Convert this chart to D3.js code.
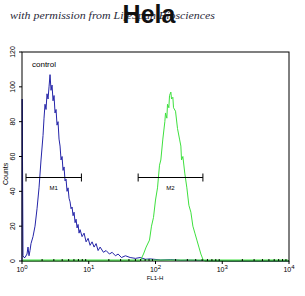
<!DOCTYPE html>
<html>
<head>
<meta charset="utf-8">
<script src="https://cdn.jsdelivr.net/npm/d3@7"></script>
<style>
  body { margin: 0; background: #fff; }
  svg { display: block; }
</style>
</head>
<body>
<svg id="chart" width="305" height="296"></svg>
<script>
// histogram values: [log10(FL1-H), counts]
const controlCurve = [
  [0, 0], [0.003, 93], [0.015, 3], [0.03, 2], [0.045, 2], [0.075, 4], [0.09, 8], [0.105, 3],
  [0.12, 6], [0.135, 10], [0.165, 14], [0.195, 20], [0.225, 30], [0.255, 42], [0.285, 58],
  [0.315, 72], [0.33, 82], [0.345, 90], [0.36, 87], [0.375, 96], [0.39, 93], [0.405, 100],
  [0.42, 107], [0.435, 98], [0.45, 101], [0.465, 92], [0.48, 95], [0.495, 85], [0.51, 87],
  [0.525, 78], [0.54, 80], [0.555, 70], [0.57, 66], [0.585, 58], [0.6, 60], [0.615, 52],
  [0.63, 54], [0.645, 46], [0.66, 47], [0.675, 40], [0.69, 42], [0.705, 36], [0.72, 34],
  [0.735, 30], [0.75, 31], [0.765, 26], [0.78, 28], [0.795, 22], [0.81, 24], [0.825, 19],
  [0.84, 21], [0.855, 16], [0.87, 18], [0.9, 14], [0.93, 16], [0.96, 11], [0.99, 13],
  [1.02, 9], [1.05, 11], [1.08, 8], [1.11, 10], [1.14, 6], [1.17, 8], [1.22, 5], [1.26, 6],
  [1.31, 4], [1.35, 5], [1.4, 3], [1.44, 4], [1.49, 2], [1.55, 3], [1.62, 2], [1.7, 1.5],
  [1.77, 2], [1.85, 1], [1.92, 1.2], [2.08, 0.6], [2.23, 0.8], [2.38, 0.4], [2.53, 0.5],
  [2.68, 0.3], [2.83, 0.2], [3.13, 0], [4, 0]
];
const sampleCurve = [
  [0, 0], [1.77, 0], [1.82, 4], [1.86, 8], [1.91, 12], [1.94, 20], [1.97, 25], [2.0, 35],
  [2.03, 42], [2.06, 55], [2.08, 58], [2.11, 70], [2.14, 80], [2.15, 85], [2.17, 82],
  [2.18, 90], [2.2, 88], [2.21, 95], [2.23, 97], [2.24, 93], [2.26, 94], [2.27, 88],
  [2.3, 86], [2.33, 76], [2.36, 70], [2.38, 66], [2.39, 58], [2.41, 60], [2.44, 50],
  [2.47, 42], [2.5, 32], [2.53, 28], [2.56, 20], [2.59, 16], [2.62, 12], [2.65, 8],
  [2.68, 4], [2.71, 1], [2.74, 0], [4, 0]
];
// gates: [name, start, end] in log10 units, at a count level
const gates = [["M1", 0.06, 0.89], ["M2", 1.74, 2.71]];
const gateLevel = 48;
const yTicks = [0, 20, 40, 60, 80, 100, 120];
const xDecades = [0, 1, 2, 3, 4];

const svg = d3.select("#chart");
const mLeft = 22, mRight = 289, mTop = 52, mBottom = 261;

const x = d3.scaleLog().domain([1, 1e4]).range([mLeft, mRight]);
const y = d3.scaleLinear().domain([0, 120]).range([mBottom, mTop]);

// watermark + title
svg.append("text")
  .attr("x", 10).attr("y", 19)
  .attr("textLength", 205)
  .attr("lengthAdjust", "spacingAndGlyphs")
  .style("font", "italic 11px 'Liberation Serif', serif")
  .attr("fill", "#2a2a3a")
  .text("with permission from LifeSpan Biosciences");

svg.append("text")
  .attr("x", 149).attr("y", 23)
  .attr("text-anchor", "middle")
  .style("font", "bold 25px 'Liberation Sans', Arial, sans-serif")
  .attr("fill", "#111")
  .text("Hela");

const line = d3.line()
  .x(d => x(Math.pow(10, d[0])))
  .y(d => y(d[1]));

svg.append("path")
  .datum(controlCurve)
  .attr("d", line)
  .attr("fill", "none")
  .attr("stroke", "#2424a8")
  .attr("stroke-width", 1);

svg.append("path")
  .datum(sampleCurve)
  .attr("d", line)
  .attr("fill", "none")
  .attr("stroke", "#3ee03e")
  .attr("stroke-width", 1);

// frame
svg.append("rect")
  .attr("x", mLeft).attr("y", mTop)
  .attr("width", mRight - mLeft).attr("height", mBottom - mTop)
  .attr("fill", "none").attr("stroke", "#000").attr("stroke-width", 1);

// green baseline drawn over the bottom edge, as in the source
svg.append("line")
  .attr("x1", mLeft + 1).attr("x2", mRight - 1)
  .attr("y1", mBottom - 1).attr("y2", mBottom - 1)
  .attr("stroke", "#3ee03e");

// y axis
const ya = svg.append("g").attr("font-family", "'Liberation Sans', Arial, sans-serif");
yTicks.forEach(t => {
  ya.append("line")
    .attr("x1", mLeft - 3).attr("x2", mLeft)
    .attr("y1", y(t)).attr("y2", y(t))
    .attr("stroke", "#000");
  ya.append("text")
    .attr("transform", `translate(${mLeft - 7},${y(t)}) rotate(-90)`)
    .attr("text-anchor", "middle")
    .attr("font-size", 7)
    .text(t);
});
svg.append("text")
  .attr("transform", `translate(8,${y(50)}) rotate(-90)`)
  .attr("text-anchor", "middle")
  .style("font", "7px 'Liberation Sans', Arial, sans-serif")
  .text("Counts");

// x axis: minor ticks inward, decades outward
const xa = svg.append("g").attr("font-family", "'Liberation Sans', Arial, sans-serif");
x.ticks().forEach(t => {
  const major = Math.abs(Math.log10(t) - Math.round(Math.log10(t))) < 1e-9;
  xa.append("line")
    .attr("x1", x(t)).attr("x2", x(t))
    .attr("y1", major ? mBottom : mBottom - 2).attr("y2", major ? mBottom + 3 : mBottom)
    .attr("stroke", "#000");
});
xDecades.forEach(k => {
  const tx = xa.append("text")
    .attr("x", x(Math.pow(10, k))).attr("y", mBottom + 11)
    .attr("text-anchor", "middle")
    .attr("font-size", 7);
  tx.append("tspan").text("10");
  tx.append("tspan").attr("dy", -3).attr("font-size", 6).text(k);
});
svg.append("text")
  .attr("x", 155).attr("y", 280)
  .attr("text-anchor", "middle")
  .style("font", "6px 'Liberation Sans', Arial, sans-serif")
  .text("FL1-H");

// gate markers
const g = svg.append("g").attr("stroke", "#000").attr("stroke-width", 1);
gates.forEach(([name, a, b]) => {
  const x0 = x(Math.pow(10, a)), x1 = x(Math.pow(10, b)), yy = Math.round(y(gateLevel)) + 0.5;
  g.append("line").attr("x1", x0).attr("x2", x1).attr("y1", yy).attr("y2", yy);
  g.append("line").attr("x1", x0).attr("x2", x0).attr("y1", yy - 4).attr("y2", yy + 4);
  g.append("line").attr("x1", x1).attr("x2", x1).attr("y1", yy - 4).attr("y2", yy + 4);
  svg.append("text")
    .attr("x", (x0 + x1) / 2).attr("y", yy + 12)
    .attr("text-anchor", "middle")
    .style("font", "6px 'Liberation Sans', Arial, sans-serif")
    .text(name);
});

// control label
svg.append("text")
  .attr("x", 32).attr("y", 67)
  .style("font", "8px 'Liberation Sans', Arial, sans-serif")
  .text("control");
</script>
</body>
</html>
